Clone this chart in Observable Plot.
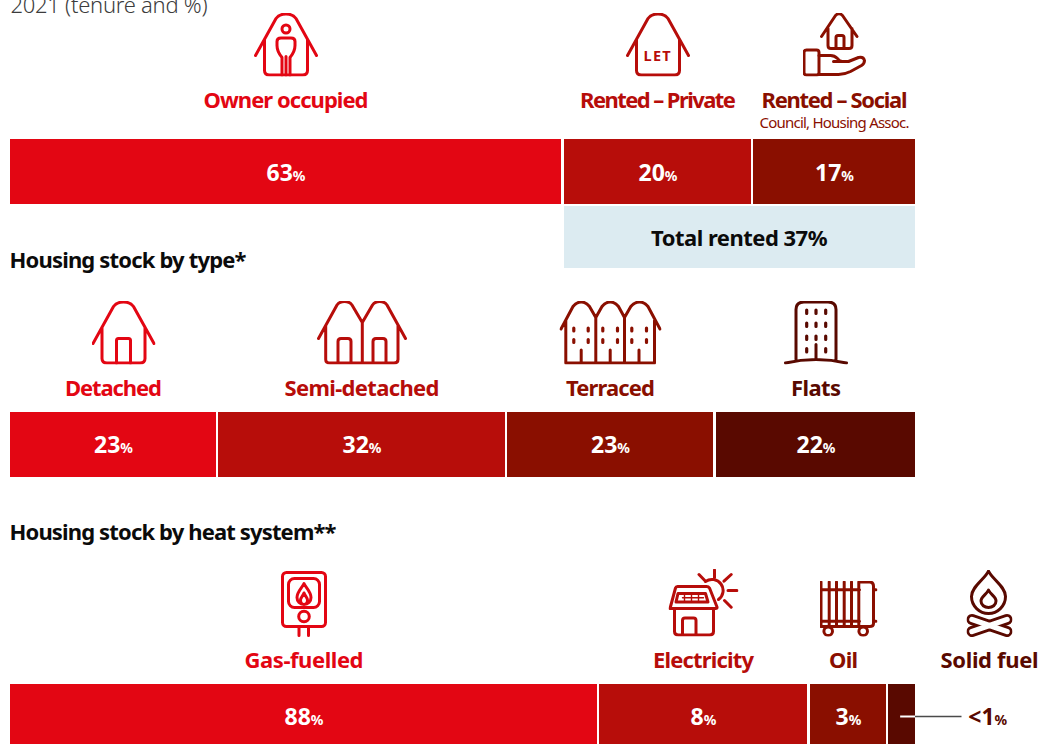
<!DOCTYPE html>
<html><head><meta charset="utf-8">
<script src="https://cdn.jsdelivr.net/npm/d3@7"></script>
<script src="https://cdn.jsdelivr.net/npm/@observablehq/plot@0.6"></script>
<style>html,body{margin:0;padding:0;background:#fff;overflow:hidden}svg{display:block}#chart{width:1039px;height:744px;overflow:hidden}</style>
</head><body><div id="chart"></div>
<script>
// ---- data ----
const subtitleFragment = "2021 (tenure and %)";
const tenureLabels = ["Owner occupied", "Rented – Private", "Rented – Social"];
const tenureValues = [63, 20, 17];
const tenureSubLabel = "Council, Housing Assoc.";
const totalRentedLabel = "Total rented 37%";
const typeHeading = "Housing stock by type*";
const typeLabels = ["Detached", "Semi-detached", "Terraced", "Flats"];
const typeValues = [23, 32, 23, 22];
const heatHeading = "Housing stock by heat system**";
const heatLabels = ["Gas-fuelled", "Electricity", "Oil", "Solid fuel"];
const heatValues = [88, 8, 3, 1];
const heatValueText = ["88%", "8%", "3%", "<1%"];

// ---- styles ----
const shades = ["#e30613", "#b70d0a", "#8a0f00", "#590900"];
const ink = "#0b0b0b";
const font = "'Noto Sans', sans-serif";
// Set widths of the texts, because the original typeface is narrower than any installed one.
const fitWidths = new Map([
  ["2021 (tenure and %)", 197], ["Owner occupied", 165], ["Rented – Private", 156], ["Rented – Social", 146],
  ["Council, Housing Assoc.", 150], ["Total rented 37%", 176.5], ["Housing stock by type*", 237],
  ["Housing stock by heat system**", 327], ["LET", 27], ["Detached", 97], ["Semi-detached", 155], ["Terraced", 89],
  ["Flats", 50], ["Gas-fuelled", 119], ["Electricity", 101], ["Oil", 29], ["Solid fuel", 98]
]);

// ---- icons (line drawings, served to Plot.image as inline SVG) ----
const houseOutline = "M1.5,43 L22,6 Q25,1.5 32,1.5 Q39,1.5 42,6 L62.5,43 M10.5,27 V58 Q10.5,62.5 15.5,62.5 H48.5 Q53.5,62.5 53.5,58 V27";
const icons = {
  owner: {w:64,h:64,body:`<path d="${houseOutline}"/><circle cx="32" cy="16.5" r="4"/><path d="M28,62.5 V45 Q23,39 23,33 V29 Q23,25.5 27,25.5 H37 Q41,25.5 41,29 V33 Q41,39 36,45 V62.5 M32,44 V62.5"/>`},
  let: {w:64,h:64,body:`<path d="${houseOutline}"/>`},
  social: {w:64,h:64,body:`<path d="M19,24 L33,3 Q36.5,-0.5 40,3 L54.5,24 M25.5,16 V33 Q25.5,36 28.5,36 H46.5 Q49.5,36 49.5,33 V16 M33.5,36 V25 Q33.5,23 35.5,23 H39.5 Q41.5,23 41.5,25 V36"/><rect x="1.5" y="37.5" width="15" height="25" rx="2.5"/><path d="M16.5,43 H28 Q32,43 35,46 Q37,49 40,49 H31 M40,49 H46 L56,45 Q61,44 62,48 Q62,51 59,53 L48,59 Q42,62 36,62 H16.5"/>`},
  detached: {w:64,h:64,body:`<path d="${houseOutline}"/><path d="M25,62.5 V40 Q25,38 27,38 H37 Q39,38 39,40 V62.5"/>`},
  semi: {w:90,h:64,body:`<path d="M1.5,38 L20,4.5 Q22.5,1 27.5,1 Q32.5,1 35,4.5 L45.3,22 L55.5,4.5 Q58,1 62.7,1 Q67.5,1 70,4.5 L88.5,38 M8.7,25 V59 Q8.7,62.5 13,62.5 H77 Q81,62.5 81,59 V25 M45.3,22 V62.5 M21,62.5 V41 Q21,38 24,38 H31 Q34,38 34,41 V62.5 M56,62.5 V41 Q56,38 59,38 H66 Q69,38 69,41 V62.5"/>`},
  terraced: {w:102,h:64,body:`<path d="M1.5,28.5 L13.5,6 Q17,1.5 21.7,1.5 Q26.5,1.5 30,6 L36.3,17 L42.5,6 Q46,1.5 50.7,1.5 Q55.5,1.5 59,6 L65,17 L71.3,6 Q75,1.5 80,1.5 Q85,1.5 88.5,6 L100.5,28.5 M6.3,20 V62.5 H95 V20 M36.3,17 V62.5 M65,17 V62.5 M21.7,49.5 V62.5 M50.7,49.5 V62.5 M79.5,49.5 V62.5"/><path d="M14.3,27.5 V30.5 M28.7,27.5 V30.5 M43.3,27.5 V30.5 M58,27.5 V30.5 M72.3,27.5 V30.5 M87,27.5 V30.5 M14.3,39 V42 M28.7,39 V42 M43.3,39 V42 M58,39 V42 M72.3,39 V42 M87,39 V42" stroke-width="3.2"/>`},
  flats: {w:64,h:64,body:`<path d="M12,59 V9 Q12,1.5 20,1.5 H44 Q52,1.5 52,9 V59 M1.5,62.5 Q32,55.5 62.5,62.5 M32,44 V58"/><path d="M22.7,9.5 V13 M32,9.5 V13 M41.7,9.5 V13 M22.7,22.5 V26 M32,22.5 V26 M41.7,22.5 V26 M22.7,35.5 V39 M32,35.5 V39 M41.7,35.5 V39 M22.7,48 V51.5 M41.7,48 V51.5" stroke-width="3.2"/>`},
  gas: {w:46,h:66,body:`<rect x="1.5" y="1.5" width="43" height="54" rx="4"/><rect x="7.5" y="7.5" width="31" height="29" rx="6"/><path d="M23,12.5 C25,17 30,20.5 30,26.5 C30,30.5 27,33.5 23,33.5 C19,33.5 16,30.5 16,26.5 C16,20.5 21,17 23,12.5 Z M23,22 C24,25 26.5,26.5 26.5,29 C26.5,31.5 25,33.5 23,33.5 C21,33.5 19.5,31.5 19.5,29 C19.5,26.5 22,25 23,22 Z"/><circle cx="23" cy="45.5" r="5.3"/><path d="M18,56 V64.5 M27.5,56 V64.5"/>`},
  electricity: {w:70,h:68,body:`<path d="M37,13 A10.5,10.5 0 0 1 50,31 M46,1.5 V9.3 M30.5,6 L37,12.7 M62.7,6 L55.5,12.7 M59.5,22 H68.5 M56,32 L62.7,38.7"/><path d="M1.5,40 L7,19.5 Q7.5,18 9,18 H38 Q40,18 41,19.5 L48.5,38.5 Q49,40 47,40 Z M9.5,25 H37 L39.5,33.5 H7.5 Z M6,40 V63 Q6,66.5 10,66.5 H41 Q45,66.5 45,63 V40 M14,66.5 V52 Q14,49.5 16.5,49.5 H25 Q27.5,49.5 27.5,52 V66.5"/><path d="M14,29.3 H35 M16,25 V33.5 M23,25 V33.5 M30,25 V33.5" stroke-width="1.4"/>`},
  oil: {w:58,h:56,body:`<path d="M1.5,1.5 V46 M9.7,1.5 V46 M17,1.5 V46 M24.7,1.5 V46 M32,1.5 V46 M39.3,1.5 V46 M1.5,9.3 H40 M1.5,40.7 H40 M40,1.5 H50 Q54,1.5 54,6 V43 Q54,46 50,46 H1.5 M54,9.3 H56.5 M54,40.7 H56.5"/><circle cx="8.7" cy="50.7" r="4.3" fill="#fff"/><circle cx="43.7" cy="50.7" r="4.3" fill="#fff"/>`},
  solid: {w:46,h:68,body:`<path d="M22,1.5 C25,9 39,17 39,27 C39,36.5 31,44 22,44 C13,44 5,36.5 5,27 C5,17 19,9 22,1.5 Z M22,20.5 C24,25 29.5,27 29.5,31.5 C29.5,35.5 26,38 22,38 C18,38 14.5,35.5 14.5,31.5 C14.5,27 20,25 22,20.5 Z"/><path d="M5.5,50 L40.5,62" stroke-width="11"/><path d="M40.5,50 L5.5,62" stroke-width="11"/><path d="M5.5,50 L40.5,62" stroke="#fff" stroke-width="5.5"/><path d="M40.5,50 L5.5,62" stroke="#fff" stroke-width="5.5"/>`}
};
function iconSrc(icon, colour) {
  const svg = `<svg xmlns="http://www.w3.org/2000/svg" width="${icon.w}" height="${icon.h}" viewBox="0 0 ${icon.w} ${icon.h}"><g fill="none" stroke="${colour}" stroke-width="3" stroke-linecap="round" stroke-linejoin="round">${icon.body}</g></svg>`;
  return "data:image/svg+xml;charset=utf-8," + encodeURIComponent(svg);
}

// ---- one stacked bar block; x is a piecewise scale over the cumulative % ----
function segments(values) {
  let run = 0;
  return values.map(v => { const start = run; run += v; return {start, end: run, mid: (start + run) / 2}; });
}
function stackBlock({labels, values, texts, xDomain, xRange, gaps, iconKeys, iconDx, labelDx, top, bottom, barTop, barBottom,
                     labelY, valueY, iconY, extraMarks}) {
  const segs = segments(values);
  const marks = [];
  labels.forEach((label, i) => {
    const s = segs[i], colour = shades[i], row = [s], gap = gaps[i];
    marks.push(Plot.rect(row, {x1: d => d.start, x2: d => d.end, y1: () => barTop, y2: () => barBottom, insetRight: gap, fill: colour}));
    const ic = icons[iconKeys[i]];
    marks.push(Plot.image(row, {x: d => d.mid, y: () => iconY[i], dx: iconDx[i] - gap / 2, width: ic.w, height: ic.h, src: iconSrc(ic, colour)}));
    marks.push(Plot.text(row, {x: d => d.mid, y: () => labelY, dx: labelDx[i] - gap / 2, text: () => label, lineAnchor: "bottom", fill: colour, fontSize: 22, fontWeight: 700, fontFamily: font}));
    if (texts[i] !== null)
      marks.push(Plot.text(row, {x: d => d.mid, y: () => valueY, dx: -gap / 2, text: () => texts[i], lineAnchor: "bottom", fill: "#fff", fontSize: 23, fontWeight: 700, fontFamily: font, className: "pct"}));
  });
  return Plot.plot({
    width: 1039, height: bottom - top, margin: 0,
    style: {background: "transparent", fontFamily: font},
    x: {type: "linear", domain: xDomain, range: xRange, axis: null},
    y: {type: "linear", domain: [top, bottom], range: [0, bottom - top], axis: null},
    marks: marks.concat(extraMarks || [])
  });
}

const headingStyle = {textAnchor: "start", lineAnchor: "bottom", dx: -1, fill: ink, fontSize: 22, fontWeight: 700, fontFamily: font};

// ---- tenure ----
const tenureSvg = stackBlock({
  labels: tenureLabels, values: tenureValues, texts: tenureValues.map(v => v + "%"),
  xDomain: [0, 63, 83, 100], xRange: [10, 564, 753, 915], gaps: [3, 2, 0],
  iconKeys: ["owner", "let", "social"], iconDx: [0, 0, 0], labelDx: [0, 0, 0], top: 0, bottom: 280,
  barTop: 139, barBottom: 204, labelY: 107, valueY: 180, iconY: [44, 44, 44],
  extraMarks: [
    Plot.rect([{x1: 63, x2: 100}], {x1: "x1", x2: "x2", y1: () => 206, y2: () => 268, fill: "#dcebf1"}),
    Plot.text([81.5], {x: d => d, y: () => 245.5, text: () => totalRentedLabel, lineAnchor: "bottom", fill: ink, fontSize: 22, fontWeight: 700, fontFamily: font}),
    Plot.text([0], {x: d => d, y: () => 12, text: () => subtitleFragment, textAnchor: "start", lineAnchor: "bottom", fill: "#3c3c3c", fontSize: 22, fontWeight: 300, fontFamily: font}),
    Plot.text([0], {x: d => d, y: () => 267, text: () => typeHeading, ...headingStyle}),
    Plot.text([72.8], {x: d => d, y: () => 60, text: () => "LET", lineAnchor: "bottom", fill: shades[1], fontSize: 14.5, fontWeight: 700, fontFamily: font}),
    Plot.text([91.5], {x: d => d, y: () => 127, text: () => tenureSubLabel, lineAnchor: "bottom", fill: shades[2], fontSize: 15, fontWeight: 400, fontFamily: font})
  ]
});

// ---- dwelling type ----
const typeSvg = stackBlock({
  labels: typeLabels, values: typeValues, texts: typeValues.map(v => v + "%"),
  xDomain: [0, 23, 55, 78, 100], xRange: [10, 218, 507, 716, 915], gaps: [2, 2, 3, 0],
  iconKeys: ["detached", "semi", "terraced", "flats"], iconDx: [10, 0, 0, 0], labelDx: [0, 0, 0, 0], top: 280, bottom: 500,
  barTop: 412, barBottom: 477, labelY: 395, valueY: 452.5, iconY: [332, 332, 332, 332]
});

// ---- heating ----
const heatSvg = stackBlock({
  labels: heatLabels, values: heatValues, texts: [heatValueText[0], heatValueText[1], heatValueText[2], null],
  xDomain: [0, 88, 96, 99, 100, 104], xRange: [10, 599, 810, 888, 915, 1039], gaps: [2, 3, 2, 0],
  iconKeys: ["gas", "electricity", "oil", "solid"], iconDx: [0, 0, 0, 87.5], labelDx: [0, 0, -5, 87.5], top: 500, bottom: 744,
  barTop: 684, barBottom: 744, labelY: 667, valueY: 724.5, iconY: [603.5, 602, 608, 603],
  extraMarks: [
    Plot.text([0], {x: d => d, y: () => 539.5, text: () => heatHeading, ...headingStyle}),
    Plot.ruleY([{a: 99.45, b: 100}], {y: () => 716, x1: "a", x2: "b", stroke: "#fff", strokeWidth: 2}),
    Plot.ruleY([{a: 100, b: 101.5}], {y: () => 716, x1: "a", x2: "b", stroke: "#4a4a4a", strokeWidth: 1.5}),
    Plot.text([102.33], {x: d => d, y: () => 724.5, text: () => heatValueText[3], lineAnchor: "bottom", fill: shades[3], fontSize: 23, fontWeight: 700, fontFamily: font, className: "pct"})
  ]
});

// Small percent signs: keep the same text, smaller type for the sign. Fit other texts to their read widths.
const host = document.getElementById("chart");
[tenureSvg, typeSvg, heatSvg].forEach(svg => {
  host.appendChild(svg);
  svg.querySelectorAll("text").forEach(t => {
    const w = fitWidths.get(t.textContent);
    if (w) { t.setAttribute("textLength", w); t.setAttribute("lengthAdjust", "spacing"); }
  });
  svg.querySelectorAll(".pct text").forEach(t => {
    const s = t.textContent, n = s.slice(0, -1);
    t.textContent = "";
    const a = document.createElementNS("http://www.w3.org/2000/svg", "tspan"); a.textContent = n;
    const b = document.createElementNS("http://www.w3.org/2000/svg", "tspan"); b.textContent = "%"; b.setAttribute("font-size", "14");
    t.append(a, b);
  });
});
</script></body></html>
